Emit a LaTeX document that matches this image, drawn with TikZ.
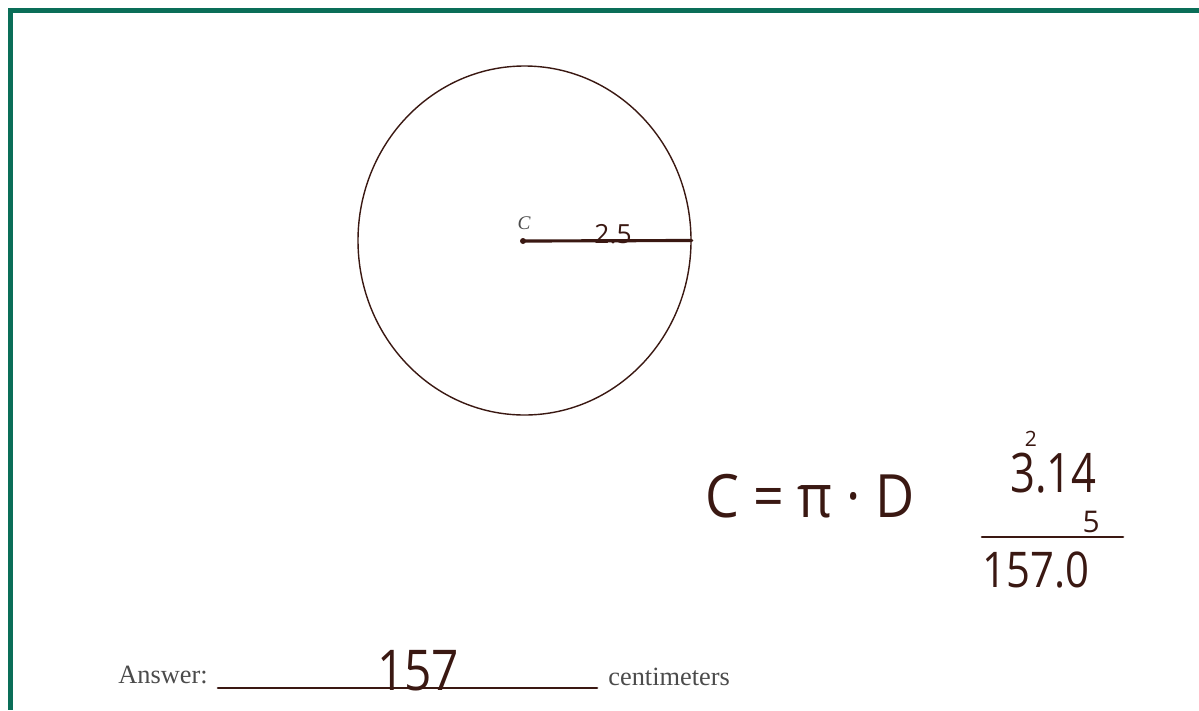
\documentclass[tikz,border=0pt]{standalone}
\usepackage{fontspec}
\setmainfont{Liberation Serif}
\newfontfamily\handfont{Open Sans}
\usetikzlibrary{shapes.geometric}
\definecolor{ink}{RGB}{58,24,18}
\definecolor{framegreen}{RGB}{10,110,88}
\definecolor{printgray}{RGB}{75,75,75}

\begin{document}
\begin{tikzpicture}[
  x=0.02cm, y=-0.02cm,
  hand/.style={font=\handfont\fontsize{#1}{#1}\selectfont, text=ink, inner sep=0pt},
  hand/.default=30,
  print/.style={font=\fontsize{15}{18}\selectfont, text=printgray, inner sep=0pt},
  ink line/.style={draw=ink, line width=1.5pt, line cap=round},
  frame/.style={fill=framegreen, draw=none}
]
\useasboundingbox (0,0) rectangle (1199,710);
% green frame, top and left only
\fill[frame] (8,8) rectangle (1199,13);
\fill[frame] (8,8) rectangle (13,710);

% circle with its center and radius
\node[ellipse, draw=ink, line width=0.8pt, minimum width=333*0.02cm,
      minimum height=349*0.02cm, inner sep=0pt] (circ) at (524.5,240.5) {};
\coordinate (ctr) at (523,241);
\fill[ink] (ctr) circle (3);
\node[font=\itshape\fontsize{11}{11}\selectfont, text=printgray, anchor=base, inner sep=0pt]
     (clab) at (524,229) {C};
\draw[ink line, line width=1.8pt] (ctr) -- (circ.east);
\node[hand=15, anchor=base] (rad) at (613,243) {2.5};

% worked solution
\node[hand=34, anchor=base west, xscale=0.9, transform shape] (formula) at (705,517) {C = π · D};
\node[hand=31, anchor=base west, xscale=0.8, transform shape] (pi) at (1010,492) {3.14};
\node[hand=12, anchor=base] (carry) at (1031,446) {2};
\node[hand=17, anchor=base east] (five) at (1100,532) {5};
\coordinate (barL) at (982,537);
\coordinate (barR) at (1123,537);
\draw[ink line] (barL) -- (barR);
\node[hand=28, anchor=base west, xscale=0.85, transform shape] (prod) at (982,587) {157.0};

% answer line
\node[print, anchor=base west] (answer) at (118,683) {Answer:};
\coordinate (ansL) at (218,688);
\coordinate (ansR) at (597,688);
\draw[ink line] (ansL) -- (ansR);
\node[hand=32, anchor=base west, xscale=0.85, transform shape] (result) at (377,690) {157};
\node[print, anchor=base west] (unit) at (608,685) {centimeters};
\end{tikzpicture}
\end{document}
